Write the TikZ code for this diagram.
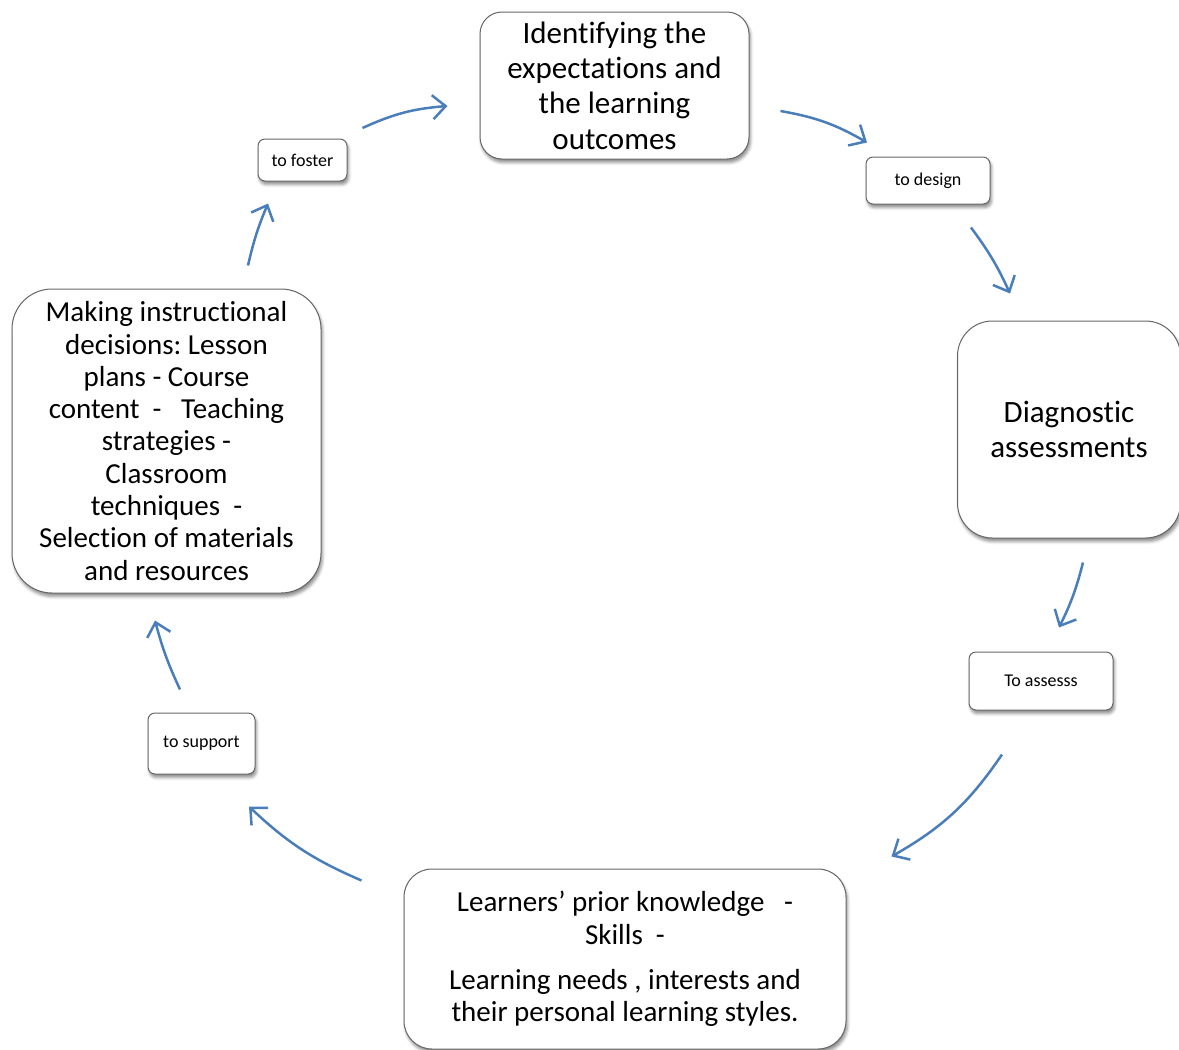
\documentclass[tikz,border=0pt]{standalone}
\usepackage{fontspec}
\setmainfont{Carlito}[Ligatures=NoCommon]
\frenchspacing
\usetikzlibrary{arrows.meta,shadows.blur}
\definecolor{flowblue}{HTML}{4A7EBB}
\tikzset{
	stage/.style = {
		draw = black!60,
		fill = white,
		rectangle,
		line width = 1pt,
		align = center,
		inner sep = 0pt,
		blur shadow = {shadow xshift=1.5pt, shadow yshift=-3.5pt, shadow blur radius=3pt, shadow opacity=45}
	},
	linkbox/.style = {
		stage,
		rounded corners = 7pt,
		font = \fontsize{18}{20}\selectfont
	},
	flow/.style = {
		-{Straight Barb[length=13pt, width=24pt]},
		line width = 2.5pt,
		draw = flowblue
	}
}

\begin{document}
\begin{tikzpicture}[x=1pt, y=-1pt]
    \useasboundingbox (0,0) rectangle (1179,1050) ;

    \node [stage, rounded corners=22pt, minimum width=269pt, minimum height=147pt, font=\fontsize{31}{35.3}\selectfont] (outcomes) at (614.5,85.5) {Identifying the\\expectations and\\the learning\\outcomes} ;
    \node [linkbox, minimum width=124pt, minimum height=47pt] (design) at (928,180.5) {to design} ;
    \node [stage, rounded corners=35pt, minimum width=223pt, minimum height=217pt, font=\fontsize{31}{35.3}\selectfont] (diagnostic) at (1069,429.5) {Diagnostic\\assessments} ;
    \node [linkbox, minimum width=144pt, minimum height=58pt] (assess) at (1041,681) {To assesss} ;
    \node [stage, rounded corners=28pt, minimum width=442pt, minimum height=180pt, font=\fontsize{29}{32.3}\selectfont] (prior) at (625,959) {Learners’ prior knowledge\ \ \ -\\Skills\ \ -\\[13pt]Learning needs , interests and\\their personal learning styles.} ;
    \node [linkbox, minimum width=107pt, minimum height=61pt] (support) at (201.5,743.5) {to support} ;
    \node [stage, rounded corners=40pt, minimum width=309pt, minimum height=304pt, font=\fontsize{29}{32.3}\selectfont] (decisions) at (166.5,441) {Making instructional\\decisions: Lesson\\plans - Course\\content\ \ -\ \ \ Teaching\\strategies -\\Classroom\\techniques\ \ -\\Selection of materials\\and resources} ;
    \node [linkbox, minimum width=89pt, minimum height=42pt] (foster) at (302.5,160) {to foster} ;

    \draw [flow] ([shift={(31,25.5)}]outcomes.east) to [bend left=10] ([shift={(-61,-14)}]design.north) ;
    \draw [flow] ([shift={(43,23)}]design.south) to [bend left=6] ([shift={(-59,-27)}]diagnostic.north) ;
    \draw [flow] ([shift={(14,24)}]diagnostic.south) to [bend left=6] ([shift={(18,-24)}]assess.north) ;
    \draw [flow] ([shift={(-39,44)}]assess.south) to [bend left=13] ([shift={(45,-12)}]prior.north east) ;
    \draw [flow] ([shift={(-42,12)}]prior.north west) to [bend left=10] ([shift={(47.5,32)}]support.south) ;
    \draw [flow] ([shift={(-21.5,-23)}]support.north) to [bend left=5] ([shift={(-11.5,27)}]decisions.south) ;
    \draw [flow] ([shift={(81.5,-23)}]decisions.north) to [bend left=5] ([shift={(-34.5,22)}]foster.south) ;
    \draw [flow] ([shift={(15,-32)}]foster.east) to [bend left=10] ([shift={(-32,20.5)}]outcomes.west) ;
\end{tikzpicture}
\end{document}
